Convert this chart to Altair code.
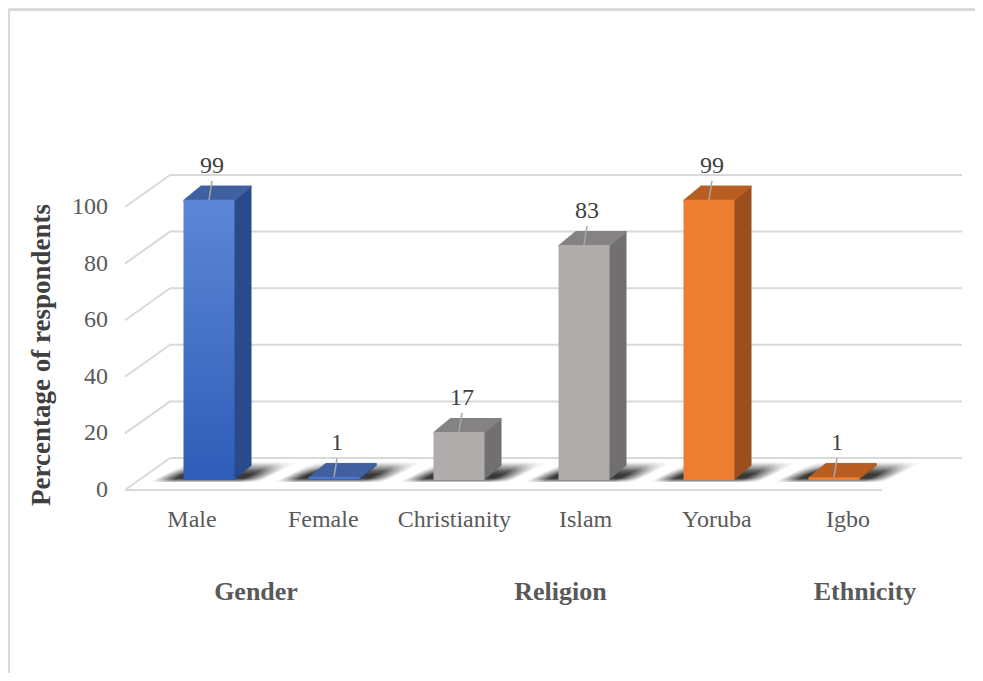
import altair as alt
import pandas as pd

# ---- data ----
categories = ["Male", "Female", "Christianity", "Islam", "Yoruba", "Igbo"]
groups_of_cat = ["Gender", "Gender", "Religion", "Religion", "Ethnicity", "Ethnicity"]
values = [99, 1, 17, 83, 99, 1]
group_names = ["Gender", "Religion", "Ethnicity"]
y_ticks = [0, 20, 40, 60, 80, 100]

df = pd.DataFrame({"category": categories, "group": groups_of_cat, "value": values})
ticks_df = pd.DataFrame({"tick": y_ticks})
groups_df = pd.DataFrame({"group": group_names})

FONT = "Liberation Serif"
W, H = 967, 665

yscale = alt.Scale(domain=[0, 100], range=[482, 199])

def X():
    return alt.X("category:N", axis=None, sort=categories,
                 scale=alt.Scale(type="band", domain=categories, range=[175.5, 851.5],
                                 paddingInner=0.592, paddingOuter=0))

def Y(field="value:Q"):
    return alt.Y(field, scale=yscale, axis=None)

palette = {
    "Gender": dict(
        front=alt.Gradient(gradient="linear", x1=0, x2=0, y1=0, y2=1,
                           stops=[alt.GradientStop(color="#5D87D6", offset=0),
                                  alt.GradientStop(color="#2E5DB8", offset=1)]),
        side="#2A4A8B", top="#41609F"),
    "Religion": dict(front="#AFACAB", side="#716F70", top="#858282"),
    "Ethnicity": dict(front="#ED7D31", side="#9B4F1E", top="#B95E22"),
}

layers = []

# chart border (left and top edges)
border = alt.Chart(ticks_df.head(1)).mark_rule(color="#D9D9D9", strokeWidth=2)
layers.append(border.encode(x=alt.value(1), y=alt.value(2), y2=alt.value(H)))
layers.append(border.encode(x=alt.value(0), x2=alt.value(W), y=alt.value(2)))

# back-wall gridlines
DX, DY = 45, -32
layers.append(alt.Chart(ticks_df).mark_rule(color="#D9D9D9", strokeWidth=2, yOffset=DY).encode(
    x=alt.value(162), x2=alt.value(954), y=Y("tick:Q")))
# side-wall diagonals
layers.append(alt.Chart(ticks_df).mark_rule(color="#D9D9D9", strokeWidth=2, y2Offset=DY).encode(
    x=alt.value(117), x2=alt.value(117 + DX), y=Y("tick:Q"), y2="tick:Q"))
# floor front edge
layers.append(alt.Chart(ticks_df.head(1)).mark_rule(color="#D9D9D9", strokeWidth=2).encode(
    x=alt.value(117), x2=alt.value(874), y=alt.Y(datum=0, scale=yscale, axis=None)))
# y tick labels
layers.append(alt.Chart(ticks_df).mark_text(font=FONT, fontSize=24, color="#595959",
                                            align="right", baseline="middle").encode(
    x=alt.value(100), y=Y("tick:Q"), text="tick:Q"))

# floor shadows (soft slanted parallelogram behind each bar base)
shadow_fill = alt.Gradient(
    gradient="linear", x1=0, x2=1, y1=0, y2=0,
    stops=[alt.GradientStop(color="rgba(35,35,35,0)", offset=0),
           alt.GradientStop(color="rgba(35,35,35,1)", offset=0.18),
           alt.GradientStop(color="rgba(35,35,35,1)", offset=0.8),
           alt.GradientStop(color="rgba(35,35,35,0)", offset=1)])
shadow_alpha = [0.3, 0.5, 0.7, 0.85, 0.9, 0.9, 0.9, 0.9, 0.85, 0.8,
                0.75, 0.7, 0.6, 0.5, 0.45, 0.35, 0.28, 0.2, 0.12, 0.06]
for k, a in enumerate(shadow_alpha):
    top = -9 - k
    layers.append(alt.Chart(df).mark_bar(fill=shadow_fill, opacity=a, width=110, xOffset=-4 + 2.0 * k,
                                         yOffset=top, y2Offset=top + 1).encode(
        x=X(), y=alt.Y(datum=0, scale=yscale, axis=None), y2=alt.Y2(datum=0)))

# 3-D bars
BASE = -10
DEPTH_X, DEPTH_Y = 17, 14
for g in group_names:
    sub = df[df["group"] == g]
    col = palette[g]
    for i in range(1, DEPTH_X + 1):
        off = BASE - i * DEPTH_Y / DEPTH_X
        layers.append(alt.Chart(sub).mark_bar(color=col["side"], xOffset=i, yOffset=off, y2Offset=off).encode(
            x=X(), y=Y(), y2=alt.Y2(datum=0)))
    for i in range(0, DEPTH_X + 1):
        off = BASE - i * DEPTH_Y / DEPTH_X
        layers.append(alt.Chart(sub).mark_bar(color=col["top"], xOffset=i, yOffset=off, y2Offset=off + 1.6).encode(
            x=X(), y=Y(), y2=alt.Y2("value:Q")))
    layers.append(alt.Chart(sub).mark_bar(fill=col["front"], yOffset=BASE, y2Offset=BASE).encode(
        x=X(), y=Y(), y2=alt.Y2(datum=0)))

# leader lines and value labels
layers.append(alt.Chart(df).mark_rule(color="#A6A6A6", strokeWidth=1.5, x2Offset=3,
                                      yOffset=BASE, y2Offset=BASE - 19).encode(
    x=X(), x2="category:N", y=Y(), y2="value:Q"))
layers.append(alt.Chart(df).mark_text(font=FONT, fontSize=24, color="#404040", dx=3, dy=-37,
                                      baseline="alphabetic", align="center").encode(
    x=X(), y=Y(), text="value:Q"))

# category labels
layers.append(alt.Chart(df).mark_text(font=FONT, fontSize=24, color="#595959", baseline="alphabetic").encode(
    x=alt.X("category:N", scale=alt.Scale(type="point", domain=categories, range=[184, 840], padding=0),
            axis=None, sort=categories),
    y=alt.value(519), text="category:N"))

# group labels
layers.append(alt.Chart(groups_df).mark_text(font=FONT, fontSize=26, fontWeight="bold", color="#595959",
                                             baseline="alphabetic").encode(
    x=alt.X("group:N", scale=alt.Scale(type="point", domain=group_names, range=[248, 857], padding=0),
            axis=None, sort=group_names),
    y=alt.value(592), text="group:N"))

# y axis title
layers.append(alt.Chart(groups_df.head(1)).mark_text(
    text="Percentage of respondents", font=FONT, fontSize=27, fontWeight="bold",
    color="#404040", angle=270, align="center", baseline="middle").encode(
    x=alt.value(34), y=alt.value(347)))

chart = alt.layer(*layers).resolve_scale(x="independent").properties(
    width=W, height=H, autosize=alt.AutoSizeParams(type="none"), padding=0
).configure_view(stroke=None).configure(background="white")

chart.save("out.html", embed_options={"renderer": "svg", "actions": False})
